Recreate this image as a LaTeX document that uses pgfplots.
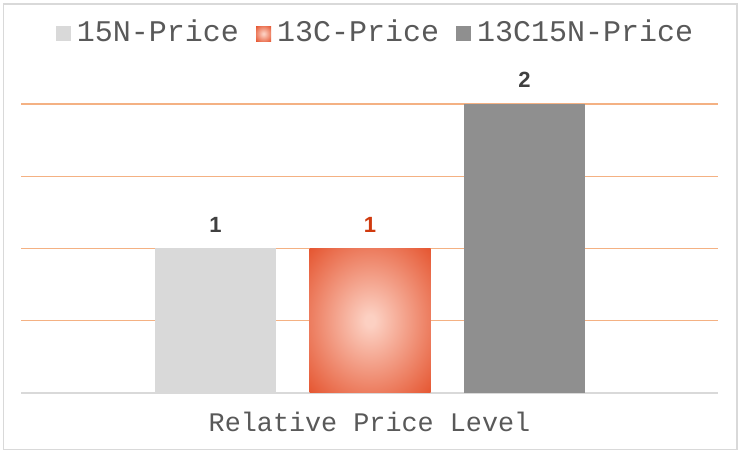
\documentclass[border=0pt]{standalone}
\usepackage{fontspec}
\setmainfont{Liberation Sans}
\newfontfamily\monofont{Liberation Mono}
\usepackage{pgfplots}
\pgfplotsset{compat=1.18}

\definecolor{barA}{HTML}{D9D9D9}
\definecolor{barC}{HTML}{8F8F8F}
\definecolor{glowIn}{HTML}{FCD0C2}
\definecolor{glowOut}{HTML}{E4502A}
\definecolor{gridOr}{HTML}{F4B183}
\definecolor{txtGray}{HTML}{595959}
\definecolor{lblGray}{HTML}{404040}
\definecolor{lblOr}{HTML}{D03A0E}
\definecolor{frameGray}{HTML}{D9D9D9}
\pgfdeclareradialshading{barglow}{\pgfpoint{0bp}{0bp}}{color(0bp)=(glowIn); color(2bp)=(glowIn); color(37bp)=(glowOut); color(80bp)=(glowOut)}

\begin{document}
\begin{tikzpicture}[x=1bp,y=1bp]
\useasboundingbox (0,0) rectangle (741,453);
\fill[white] (0,0) rectangle (741,453);
\draw[frameGray, line width=1.3bp] (3.5,3.5) rectangle (737,449);
\begin{axis}[
  at={(21bp,60bp)}, anchor=south west,
  scale only axis, width=697bp, height=289bp,
  xmin=21, xmax=718, ymin=0, ymax=2,
  clip=false,
  separate axis lines,
  axis x line*=bottom,
  x axis line style={-, draw=frameGray, line width=1.3bp},
  y axis line style={draw=none},
  xtick=\empty, ytick={0.5,1,1.5,2}, yticklabels={},
  major tick length=0pt,
  ymajorgrids, grid style={gridOr, line width=1.1bp},
  xlabel={\fontsize{26.8bp}{28bp}\monofont Relative Price Level},
  xlabel style={at={(axis description cs:0.5,0)}, anchor=base, yshift=-38.7bp, text=txtGray, inner sep=0pt},
  /pgf/number format/assume math mode=true,
  nodes near coords={\pgfmathprintnumber[assume math mode=true]{\pgfplotspointmeta}},
  nodes near coords style={font=\fontsize{22bp}{22bp}\selectfont\bfseries, anchor=base, yshift=16bp, inner sep=0pt},
  legend columns=3,
  legend cell align=left,
  legend style={at={(rel axis cs:0.02582,1.2121)}, anchor=south west, draw=none, fill=none,
    inner sep=0pt, outer sep=0pt, row sep=0pt, column sep=0pt,
    font=\fontsize{30bp}{30bp}\monofont, text=txtGray,
    nodes={inner sep=0pt, outer sep=0pt, anchor=base west}},
  legend image code/.code={%
    \pgfpathrectangle{\pgfpoint{-17bp}{0bp}}{\pgfpoint{38bp}{15bp}}\pgfusepath{}%
    \path[#1] (0bp,0bp) rectangle (15bp,15bp);},
]
\addplot[ybar, bar width=121, bar shift=0pt, fill=barA, draw=none,
  every node near coord/.append style={text=lblGray}] coordinates {(215.5,1)};
\addlegendentry{15N-Price}
\addplot[ybar, bar width=121, bar shift=0pt, draw=none, shade, shading=barglow,
  every node near coord/.append style={text=lblOr}] coordinates {(370,1)};
\addlegendentry{13C-Price}
\addplot[ybar, bar width=121, bar shift=0pt, fill=barC, draw=none,
  every node near coord/.append style={text=lblGray}] coordinates {(524.5,2)};
\addlegendentry{13C15N-Price}
\end{axis}
\end{tikzpicture}
\end{document}
